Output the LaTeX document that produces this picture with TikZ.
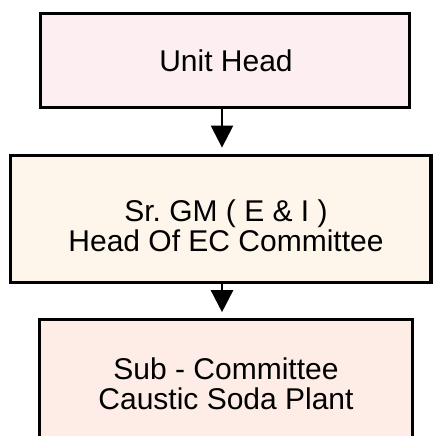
\documentclass[tikz,border=0pt]{standalone}
\usepackage{fontspec}
\setmainfont{Liberation Sans}
\usetikzlibrary{arrows.meta}
\definecolor{unitpink}{RGB}{253,238,242}
\definecolor{gmcream}{RGB}{254,245,235}
\definecolor{subpeach}{RGB}{253,237,230}
\frenchspacing

\begin{document}
\begin{tikzpicture}[x = 1pt, y = 1pt,
  orgbox/.style = {draw, line width = 3.2pt, rectangle, inner sep = 0pt},
  orgtext/.style = {inner sep = 0pt, font = \fontsize{30}{30}\selectfont, align = center},
  orgarrow/.style = {line width = 2.5pt, -{Triangle[width = 22pt, length = 22pt]}}]
\useasboundingbox (0, 0) rectangle (434, 436);
\clip (0, 0) rectangle (434, 436);
% boxes
\node [orgbox, fill = unitpink, minimum width = 369pt, minimum height = 94pt] (unit) at (225, 375.5) {};
\node [orgbox, fill = gmcream, minimum width = 420.5pt, minimum height = 127pt] (gm) at (220.75, 217) {};
\node [orgbox, fill = subpeach, minimum width = 373.3pt, minimum height = 150pt] (sub) at (225.85, 41.5) {};
% texts
\node [orgtext, anchor = base] (unit-label) at (226, 364.3) {Unit Head};
\node [orgtext] (gm-label) at (226, 210) {Sr. GM ( E \& I )\\Head Of EC Committee};
\node [orgtext] (sub-label) at (226, 51.75) {Sub - Committee\\Caustic Soda Plant};
% arrows
\coordinate (spine) at (222, 0);
\draw [orgarrow, shorten > = 6.3pt] (unit.south -| spine) -- (gm.north -| spine);
\draw [orgarrow, shorten > = 5.7pt] (gm.south -| spine) -- (sub.north -| spine);
\end{tikzpicture}
\end{document}
